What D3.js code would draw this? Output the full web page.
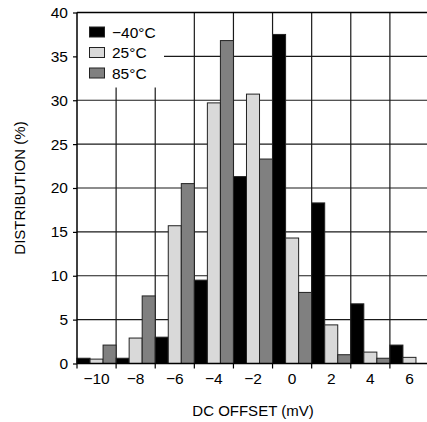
<!DOCTYPE html>
<html><head><meta charset="utf-8">
<script src="https://cdn.jsdelivr.net/npm/d3@7"></script>
<style>
html,body{margin:0;padding:0;background:#fff;overflow:hidden}
text{font-family:"Liberation Sans",Arial,sans-serif;fill:#000}
</style></head>
<body><svg id="c" width="427" height="422"></svg>
<script>
const categories = ["−10","−8","−6","−4","−2","0","2","4","6"];
const seriesNames = ["−40°C","25°C","85°C"];
const seriesColors = ["#000000","#d9d9d9","#808080"];
const valsM40 = [0.6, 0.6, 3.0, 9.5, 21.3, 37.5, 18.3, 6.8, 2.1];
const vals25  = [0.5, 2.9, 15.7, 29.7, 30.7, 14.3, 4.4, 1.3, 0.7];
const vals85  = [2.1, 7.7, 20.5, 36.8, 23.3, 8.1, 1.0, 0.6, 0];
const yTicks = [0,5,10,15,20,25,30,35,40];
const series = [valsM40, vals25, vals85];

const svg = d3.select("#c");
const L = 77, R = 429, T = 12.5, B = 363.5;
const x = d3.scaleBand().domain(categories).range([L, R]).padding(0);
const xs = d3.scaleBand().domain(d3.range(3)).range([0, x.bandwidth()]).padding(0);
const y = d3.scaleLinear().domain([0, 40]).range([B, T]);

const grid = svg.append("g").attr("stroke", "#1a1a1a").attr("stroke-width", 1.2);
// vertical gridlines at band boundaries
categories.forEach((c, i) => {
  if (i === 0) return;
  grid.append("line").attr("x1", x(c)).attr("x2", x(c)).attr("y1", T).attr("y2", B);
});
yTicks.forEach(t => {
  if (t === 0) return;
  grid.append("line").attr("x1", L).attr("x2", R).attr("y1", y(t)).attr("y2", y(t));
});

// legend background
svg.append("rect").attr("x", L).attr("y", T).attr("width", 87).attr("height", 75).attr("fill", "#fff");

// bars
const data = [];
categories.forEach((c, i) => series.forEach((s, j) => data.push({c, j, v: s[i]})));
svg.append("g").selectAll("rect").data(data.filter(d => d.v > 0)).join("rect")
  .attr("x", d => x(d.c) + xs(d.j))
  .attr("width", xs.bandwidth())
  .attr("y", d => y(d.v))
  .attr("height", d => B - y(d.v))
  .attr("fill", d => seriesColors[d.j])
  .attr("stroke", "#222").attr("stroke-width", 1);

// axes frame
svg.append("line").attr("x1", L).attr("x2", L).attr("y1", T).attr("y2", B).attr("stroke", "#000").attr("stroke-width", 1.5);
svg.append("line").attr("x1", L).attr("x2", R).attr("y1", T).attr("y2", T).attr("stroke", "#000").attr("stroke-width", 1.5);
svg.append("line").attr("x1", L).attr("x2", R).attr("y1", B).attr("y2", B).attr("stroke", "#000").attr("stroke-width", 1.5);

// y axis
const yAx = svg.append("g").attr("transform", `translate(${L},0)`)
  .call(d3.axisLeft(y).tickValues(yTicks).tickSize(4).tickPadding(5));
yAx.select(".domain").remove();
yAx.selectAll("line").attr("stroke", "#000").attr("stroke-width", 1.2);
yAx.selectAll("text").style("font-size", "15.5px").attr("fill", "#000");

// x axis labels (centered in bands)
const xAx = svg.append("g").attr("transform", `translate(0,${B})`)
  .call(d3.axisBottom(x).tickSize(0).tickPadding(9));
xAx.select(".domain").remove();
xAx.selectAll("text").style("font-size", "15.5px").attr("fill", "#000");
// x tick marks at band boundaries
categories.forEach(c => {
  svg.append("line").attr("x1", x(c)).attr("x2", x(c)).attr("y1", B).attr("y2", B + 5)
    .attr("stroke", "#000").attr("stroke-width", 1.2);
});

// legend
const lg = svg.append("g");
seriesNames.forEach((n, j) => {
  const cy = 32 + j * 20.5;
  lg.append("rect").attr("x", 89.5).attr("y", cy - 5).attr("width", 15).attr("height", 10)
    .attr("fill", seriesColors[j]).attr("stroke", "#222").attr("stroke-width", 1);
  lg.append("text").attr("x", 112).attr("y", cy + 5.5).style("font-size", "15.5px").text(n);
});

// titles
svg.append("text").attr("x", (L + R) / 2).attr("y", 416).attr("text-anchor", "middle")
  .style("font-size", "15px").text("DC OFFSET (mV)");
svg.append("text").attr("transform", `translate(25,${(T + B) / 2}) rotate(-90)`)
  .attr("text-anchor", "middle").style("font-size", "15px").text("DISTRIBUTION (%)");
</script></body></html>
